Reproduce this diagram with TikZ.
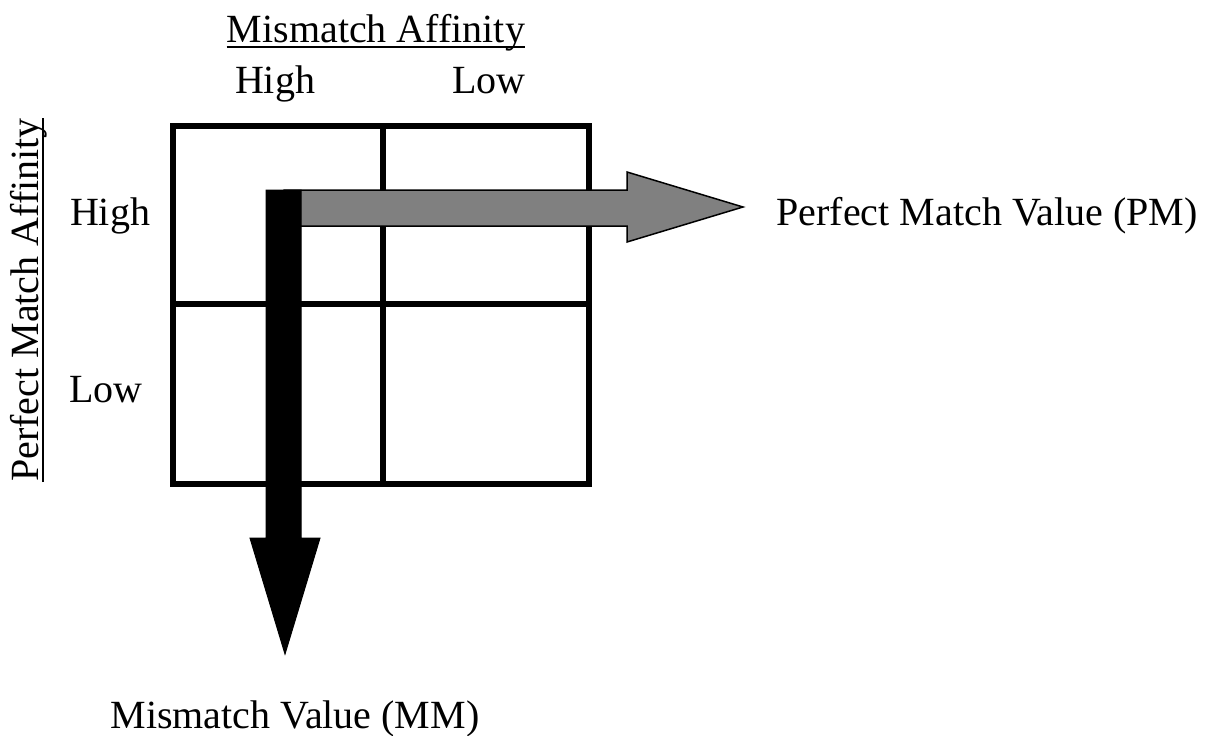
\documentclass[tikz,border=0pt]{standalone}
\usepackage{fontspec}
\setmainfont{Liberation Serif}
\begin{document}
\begin{tikzpicture}[x=1pt,y=-1pt,
  lbl/.style={font=\fontsize{40}{47}\selectfont, inner sep=0pt, anchor=base},
  gridline/.style={line width=6pt},
  uline/.style={line width=1.6pt},
  pmarrow/.style={fill=black!50, draw=black, line width=1.5pt, line join=miter},
  mmarrow/.style={fill=black, draw=black, line width=1pt, line join=miter}]
\useasboundingbox (0,0) rectangle (1213,736);

% 2x2 grid
\draw[gridline] (173,126) rectangle (589,484);
\draw[gridline] (383,126) -- (383,484);
\draw[gridline] (173,304) -- (589,304);

% grey arrow to the right: perfect match value
\path[pmarrow] (284,190) -- (627,190) -- (627,172) -- (743,207) -- (627,242)
  -- (627,226) -- (284,226) -- cycle;
% black arrow downwards: mismatch value
\path[mmarrow] (266,190) -- (301,190) -- (301,538) -- (320,538) -- (285,654)
  -- (250,538) -- (266,538) -- cycle;

% column headings
\node[lbl] (ma) at (376,42) {Mismatch Affinity};
\draw[uline] ([yshift=-5pt]ma.base west) -- ([yshift=-5pt]ma.base east);
\node[lbl] (colhigh) at (275,93) {High};
\node[lbl] (collow) at (489,93) {Low};

% row headings
\node[lbl, rotate=90] (pa) at (38,300) {Perfect Match Affinity};
\draw[uline] ([xshift=5pt]pa.base west) -- ([xshift=5pt]pa.base east);
\node[lbl] (rowhigh) at (110,225) {High};
\node[lbl] (rowlow) at (106,402) {Low};

% arrow labels
\node[lbl] (pm) at (987,225) {Perfect Match Value (PM)};
\node[lbl] (mm) at (295,728) {Mismatch Value (MM)};
\end{tikzpicture}
\end{document}
